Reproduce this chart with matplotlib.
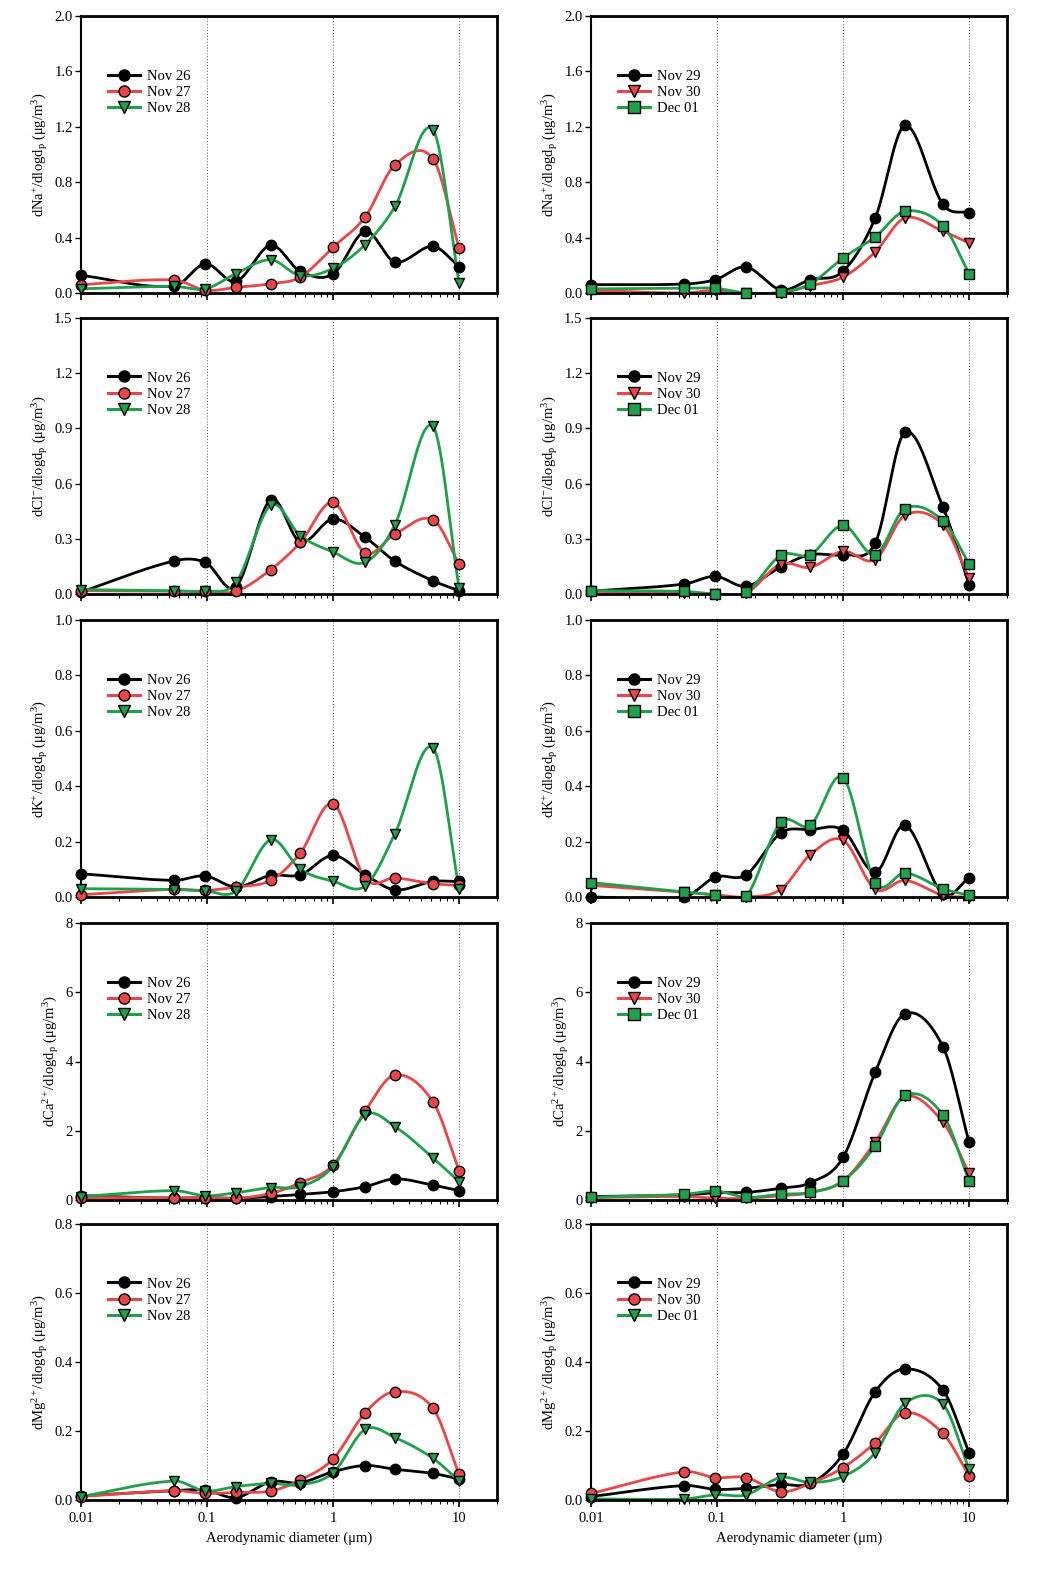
import numpy as np
import matplotlib
matplotlib.use("Agg")
import matplotlib.pyplot as plt

plt.rcParams['font.family'] = ['Liberation Serif', 'DejaVu Serif']
plt.rcParams['mathtext.fontset'] = 'custom'
plt.rcParams['mathtext.rm'] = 'Liberation Serif'
plt.rcParams['mathtext.it'] = 'Liberation Serif:italic'
plt.rcParams['mathtext.bf'] = 'Liberation Serif:bold'

# stage midpoint diameters (um)
diam = [0.01, 0.055, 0.097, 0.17, 0.32, 0.55, 1.0, 1.8, 3.1, 6.2, 10]

dates_left = ["Nov 26", "Nov 27", "Nov 28"]
dates_right = ["Nov 29", "Nov 30", "Dec 01"]

# Na+
na_nov26 = [0.127, 0.05, 0.21, 0.084, 0.344, 0.156, 0.137, 0.445, 0.224, 0.337, 0.19]
na_nov27 = [0.06, 0.094, 0.02, 0.04, 0.067, 0.115, 0.33, 0.55, 0.925, 0.97, 0.325]
na_nov28 = [0.03, 0.048, 0.03, 0.14, 0.24, 0.125, 0.178, 0.35, 0.625, 1.18, 0.072]
na_nov29 = [0.06, 0.065, 0.096, 0.188, 0.024, 0.096, 0.157, 0.542, 1.21, 0.64, 0.578]
na_nov30 = [0.02, 0.0, 0.02, 0.0, 0.0, 0.053, 0.115, 0.296, 0.542, 0.446, 0.361]
na_dec01 = [0.03, 0.034, 0.034, 0.0, 0.005, 0.067, 0.253, 0.405, 0.59, 0.487, 0.14]

# Cl-
cl_nov26 = [0.011, 0.18, 0.172, 0.04, 0.513, 0.283, 0.408, 0.308, 0.178, 0.072, 0.018]
cl_nov27 = [0.018, 0.015, 0.015, 0.015, 0.132, 0.28, 0.498, 0.223, 0.326, 0.404, 0.163]
cl_nov28 = [0.024, 0.018, 0.015, 0.063, 0.482, 0.317, 0.228, 0.172, 0.377, 0.911, 0.033]
cl_nov29 = [0.015, 0.054, 0.096, 0.042, 0.147, 0.214, 0.214, 0.277, 0.879, 0.473, 0.051]
cl_nov30 = [0.015, 0.004, 0.0, 0.004, 0.163, 0.145, 0.232, 0.187, 0.428, 0.377, 0.087]
cl_dec01 = [0.018, 0.014, 0.0, 0.009, 0.21, 0.214, 0.373, 0.214, 0.464, 0.399, 0.163]

# K+
k_nov26 = [0.084, 0.06, 0.076, 0.036, 0.078, 0.08, 0.15, 0.08, 0.026, 0.056, 0.056]
k_nov27 = [0.008, 0.028, 0.024, 0.036, 0.06, 0.159, 0.337, 0.066, 0.069, 0.048, 0.042]
k_nov28 = [0.03, 0.027, 0.022, 0.022, 0.207, 0.1, 0.057, 0.04, 0.229, 0.539, 0.03]
k_nov29 = [0.0, 0.0, 0.072, 0.08, 0.231, 0.243, 0.241, 0.09, 0.259, 0.01, 0.069]
k_nov30 = [0.042, 0.018, 0.008, 0.0, 0.027, 0.153, 0.205, 0.028, 0.06, 0.006, 0.0]
k_dec01 = [0.052, 0.018, 0.008, 0.002, 0.269, 0.259, 0.431, 0.052, 0.087, 0.03, 0.006]

# Ca2+
ca_nov26 = [0.125, 0.05, 0.07, 0.05, 0.1, 0.16, 0.24, 0.385, 0.61, 0.43, 0.27]
ca_nov27 = [0.07, 0.07, 0.07, 0.05, 0.19, 0.5, 1.01, 2.57, 3.61, 2.84, 0.85]
ca_nov28 = [0.1, 0.27, 0.125, 0.21, 0.36, 0.385, 0.96, 2.46, 2.12, 1.22, 0.53]
ca_nov29 = [0.1, 0.145, 0.21, 0.22, 0.34, 0.5, 1.23, 3.69, 5.38, 4.43, 1.67]
ca_nov30 = [0.07, 0.1, 0.05, 0.05, 0.125, 0.21, 0.55, 1.67, 2.99, 2.25, 0.77]
ca_dec01 = [0.08, 0.165, 0.26, 0.08, 0.165, 0.22, 0.55, 1.56, 3.02, 2.46, 0.55]

# Mg2+
mg_nov26 = [0.012, 0.027, 0.029, 0.007, 0.053, 0.05, 0.082, 0.1, 0.089, 0.077, 0.061]
mg_nov27 = [0.01, 0.027, 0.019, 0.022, 0.026, 0.058, 0.119, 0.253, 0.314, 0.266, 0.074]
mg_nov28 = [0.01, 0.055, 0.026, 0.039, 0.048, 0.044, 0.079, 0.205, 0.181, 0.121, 0.055]
mg_nov29 = [0.01, 0.042, 0.031, 0.034, 0.045, 0.048, 0.133, 0.314, 0.38, 0.319, 0.137]
mg_nov30 = [0.019, 0.082, 0.065, 0.065, 0.024, 0.048, 0.094, 0.166, 0.253, 0.193, 0.07]
mg_dec01 = [0.003, 0.003, 0.015, 0.015, 0.065, 0.051, 0.068, 0.137, 0.28, 0.278, 0.089]

ylabels = [r"dNa$^{+}$/dlogd$_{\rm p}$ (μg/m$^{3}$)",
           r"dCl$^{-}$/dlogd$_{\rm p}$ (μg/m$^{3}$)",
           r"dK$^{+}$/dlogd$_{\rm p}$ (μg/m$^{3}$)",
           r"dCa$^{2+}$/dlogd$_{\rm p}$ (μg/m$^{3}$)",
           r"dMg$^{2+}$/dlogd$_{\rm p}$ (μg/m$^{3}$)"]
ymax = [2.0, 1.5, 1.0, 8, 0.8]
ystep = [0.4, 0.3, 0.2, 2, 0.2]

left_data = [[na_nov26, na_nov27, na_nov28],
             [cl_nov26, cl_nov27, cl_nov28],
             [k_nov26, k_nov27, k_nov28],
             [ca_nov26, ca_nov27, ca_nov28],
             [mg_nov26, mg_nov27, mg_nov28]]
right_data = [[na_nov29, na_nov30, na_dec01],
              [cl_nov29, cl_nov30, cl_dec01],
              [k_nov29, k_nov30, k_dec01],
              [ca_nov29, ca_nov30, ca_dec01],
              [mg_nov29, mg_nov30, mg_dec01]]

BLACK = 'black'
RED = '#e8474a'
GREEN = '#1fa04a'

left_styles = [(BLACK, 'o', BLACK), (RED, 'o', RED), (GREEN, 'v', GREEN)]
right_styles = [(BLACK, 'o', BLACK), (RED, 'v', RED), (GREEN, 's', GREEN)]
right_styles_mg = [(BLACK, 'o', BLACK), (RED, 'o', RED), (GREEN, 'v', GREEN)]


def hermite_curve(xv, yv, n=800):
    # Catmull-Rom style cubic Hermite curve in log10(x)
    x = np.log10(np.asarray(xv, float))
    y = np.asarray(yv, float)
    k = len(x)
    d = np.zeros(k)
    d[0] = (y[1] - y[0]) / (x[1] - x[0])
    d[-1] = (y[-1] - y[-2]) / (x[-1] - x[-2])
    d[1:-1] = (y[2:] - y[:-2]) / (x[2:] - x[:-2])
    xs = np.linspace(x[0], x[-1], n)
    idx = np.clip(np.searchsorted(x, xs) - 1, 0, k - 2)
    h = x[idx + 1] - x[idx]
    t = (xs - x[idx]) / h
    h00 = 2 * t**3 - 3 * t**2 + 1
    h10 = t**3 - 2 * t**2 + t
    h01 = -2 * t**3 + 3 * t**2
    h11 = t**3 - t**2
    ys = h00 * y[idx] + h10 * h * d[idx] + h01 * y[idx + 1] + h11 * h * d[idx + 1]
    return 10 ** xs, ys


fig = plt.figure(figsize=(10.44, 15.73), dpi=100)
W, H = 1044.0, 1573.0
rows_px = [(16, 293), (318, 594), (620, 897), (923, 1200), (1224, 1500)]
cols_px = [81, 591]
axw = 416

for r, (top, bot) in enumerate(rows_px):
    for c, x0 in enumerate(cols_px):
        ax = fig.add_axes([x0 / W, 1 - bot / H, axw / W, (bot - top) / H])
        if c == 0:
            data, labels, styles = left_data[r], dates_left, left_styles
        else:
            data, labels = right_data[r], dates_right
            styles = right_styles_mg if r == 4 else right_styles
        ax.set_xscale('log')
        ax.set_xlim(0.01, 20)
        ax.set_ylim(0, ymax[r])
        for xv in [0.1, 1, 10]:
            ax.axvline(xv, color='#555555', ls=(0, (1, 2)), lw=0.7, zorder=1)
        handles = []
        for vals, lab, (col, mk, fc) in zip(data, labels, styles):
            xs, ys = hermite_curve(diam, vals)
            ax.plot(xs, ys, color=col, lw=2.0, zorder=2, clip_on=True)
            ax.plot(diam, vals, ls='none', marker=mk, ms=7.5, mfc=fc, mec='black',
                    mew=1.0, zorder=3, clip_on=False)
            h, = ax.plot([], [], color=col, lw=2.2, marker=mk, ms=8, mfc=fc,
                         mec='black', mew=1.0)
            handles.append(h)
        ax.legend(handles, labels, loc='upper left', bbox_to_anchor=(0.05, 0.828),
                  frameon=False, fontsize=10.5, handlelength=2.2, handletextpad=0.5,
                  labelspacing=0.2, borderaxespad=0)
        ax.set_yticks(np.arange(0, ymax[r] + 1e-9, ystep[r]))
        if r == 3:
            ax.set_yticklabels([f"{v:.0f}" for v in ax.get_yticks()])
        else:
            ax.set_yticklabels([f"{v:.1f}" for v in ax.get_yticks()])
        ax.set_ylabel(ylabels[r], fontsize=10.5, labelpad=3)
        for s in ax.spines.values():
            s.set_linewidth(2.0)
        ax.spines['left'].set_linewidth(1.5)
        ax.tick_params(axis='y', direction='out', length=4, width=1, labelsize=10.5, pad=2)
        ax.tick_params(axis='x', which='major', direction='out', length=5, width=1.2,
                       labelsize=10.5, pad=4)
        ax.tick_params(axis='x', which='minor', direction='out', length=3, width=0.8)
        ax.set_xticks([0.01, 0.1, 1, 10])
        if r == 4:
            ax.set_xticklabels(["0.01", "0.1", "1", "10"])
            ax.set_xlabel("Aerodynamic diameter (μm)", fontsize=10.5, labelpad=4)
        else:
            ax.set_xticklabels([])

fig.savefig("out.png", dpi=100)
